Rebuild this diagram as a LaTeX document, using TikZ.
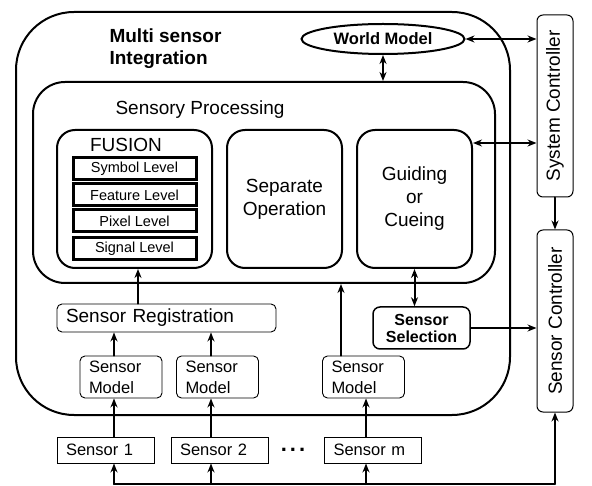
\documentclass[tikz,border=0pt]{standalone}
\usepackage{fontspec}
\setmainfont{Liberation Sans}
\usetikzlibrary{arrows.meta,shapes.geometric}

\begin{document}
\begin{tikzpicture}[x=1pt,y=-1pt,>={Stealth[length=9pt,width=7pt]},line cap=round,
  bigbox/.style={draw,line width=2pt,rounded corners=#1,inner sep=0pt,align=center,font=\fontsize{19}{23}\selectfont},
  thinbox/.style={draw,line width=0.9pt,rounded corners=5pt,inner xsep=9pt,inner ysep=0pt,align=left,font=\fontsize{16.5}{21}\selectfont},
  sensbox/.style={draw,line width=0.9pt,inner xsep=9pt,inner ysep=0pt,minimum height=26pt,text width=79pt,align=left,font=\fontsize{16.5}{20}\selectfont},
  levelbox/.style={draw,line width=3pt,minimum width=123pt,minimum height=22pt,inner sep=0pt,font=\fontsize{14.5}{16}\selectfont},
  ctrlbox/.style={draw,line width=1pt,rounded corners=6pt,rotate=90,minimum width=182pt,minimum height=36pt,inner sep=0pt,font=\fontsize{19}{23}\selectfont},
  flow/.style={->,line width=2pt},
  both/.style={<->,line width=2pt}]
\useasboundingbox (0,0) rectangle (592,486);
% integration block
\node[bigbox=58pt,minimum width=494pt,minimum height=403pt] (msi) at (263,213.5) {};
\node[anchor=west,align=left,font=\bfseries\fontsize{19}{22}\selectfont] (msit) at (106,49) {Multi sensor\\Integration};
\node[ellipse,draw,line width=2pt,minimum width=163pt,minimum height=30pt,inner sep=0pt,font=\bfseries\fontsize{16.5}{19}\selectfont] (wm) at (383,39) {World Model};
% sensory processing
\node[bigbox=32pt,minimum width=462pt,minimum height=201pt] (sp) at (264,182.5) {};
\node[font=\fontsize{19}{23}\selectfont] (spt) at (200,110) {Sensory Processing};
\node[bigbox=18pt,minimum width=155pt,minimum height=138pt] (fu) at (134.5,199) {};
\node[font=\fontsize{19}{23}\selectfont] (fut) at (126,145) {FUSION};
\node[levelbox] (lsym) at (134.5,168.5) {Symbol Level};
\node[levelbox] (lfea) at (134.5,195) {Feature Level};
\node[levelbox] (lpix) at (134.5,221) {Pixel Level};
\node[levelbox] (lsig) at (134.5,248.5) {Signal Level};
\node[bigbox=18pt,minimum width=115pt,minimum height=138pt] (sep) at (284.5,199) {Separate\\Operation};
\node[bigbox=18pt,minimum width=115pt,minimum height=138pt] (gc) at (414.5,199) {Guiding\\or\\Cueing};
% registration and models
\node[thinbox,minimum height=28pt,text width=201pt,font=\fontsize{19}{22}\selectfont] (reg) at (166.5,318) {Sensor Registration};
\node[thinbox,minimum height=42pt,text width=64pt] (m1) at (121,377) {Sensor\\Model};
\node[thinbox,minimum height=42pt,text width=64pt] (m2) at (217.5,377) {Sensor\\Model};
\node[thinbox,minimum height=42pt,text width=64pt] (m3) at (363.5,377) {Sensor\\Model};
\node[draw,line width=1.5pt,rounded corners=7pt,minimum width=97pt,minimum height=42pt,inner sep=0pt,align=center,font=\bfseries\fontsize{16}{17}\selectfont] (ss) at (421.5,328) {Sensor\\Selection};
% sensors
\node[sensbox] (s1) at (105.5,450) {Sensor 1};
\node[sensbox] (s2) at (219.5,450) {Sensor 2};
\node[sensbox] (sm) at (373,450) {Sensor m};
\node[font=\bfseries\fontsize{22}{22}\selectfont] (dots) at (293,450) {.\hspace{3pt}.\hspace{3pt}.};
% controllers
\node[ctrlbox] (sysc) at (555,106) {System Controller};
\node[ctrlbox] (senc) at (555,321) {Sensor Controller};
% connectors
\coordinate (b1) at (114,484);
\coordinate (b2) at (211,484);
\coordinate (b3) at (366,484);
\coordinate (b4) at (555,484);
\draw[line width=2pt] (b1) -- (b4);
\foreach \c/\s/\m in {b1/s1/m1,b2/s2/m2}{
  \draw[flow] (\c) -- (\c |- \s.south);
  \draw[flow] (\c |- \s.north) -- (\c |- \m.south);
  \draw[flow] (\c |- \m.north) -- (\c |- reg.south);
}
\draw[flow] (b3) -- (b3 |- sm.south);
\draw[flow] (b3 |- sm.north) -- (b3 |- m3.south);
\draw[flow] ([xshift=-22.5pt]m3.north) -- ([xshift=-22.5pt]m3.north |- sp.south);
\draw[flow] (b4) -- (senc.west);
\draw[flow] ([xshift=3.5pt]fu.south |- reg.north) -- ([xshift=3.5pt]fu.south);
\draw[both] (wm.south) -- (wm.south |- sp.north);
\draw[both] (wm.east) -- (wm.east -| sysc.north);
\draw[both] ([yshift=-14pt]gc.north east) -- ([yshift=-14pt]gc.north east -| sysc.north);
\draw[flow] (sysc.west) -- (senc.east);
\draw[both] (gc.south) -- (gc.south |- ss.north);
\draw[flow] (ss.east) -- (ss.east -| senc.north);
\end{tikzpicture}
\end{document}
